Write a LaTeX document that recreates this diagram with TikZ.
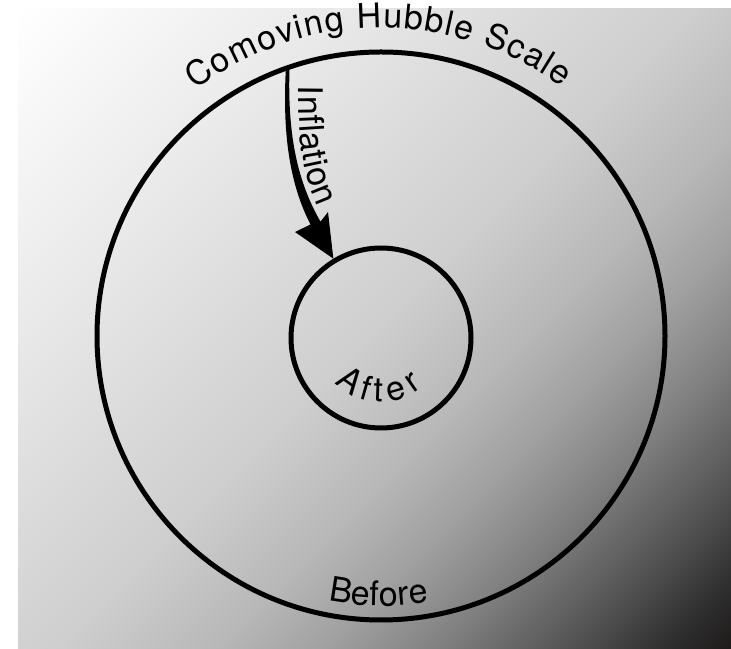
\documentclass[tikz,border=0pt]{standalone}
\usepackage{fontspec}
\setmainfont{TeX Gyre Heros}
\usetikzlibrary{decorations.text,calc}
\definecolor{bgdark}{HTML}{1F1B1B}
\pgfdeclarehorizontalshading{bgshade}{100bp}{color(0bp)=(white); color(14.64bp)=(white); color(32.32bp)=(black!9); color(50bp)=(black!19); color(58.48bp)=(black!28); color(64.14bp)=(black!37); color(69.79bp)=(black!49); color(74.04bp)=(black!60); color(78.28bp)=(black!71); color(81.82bp)=(black!81); color(85.36bp)=(bgdark); color(100bp)=(bgdark)}
\newcommand\lblfont{\fontsize{34}{40}\selectfont}
\tikzset{
  ring/.style={circle, draw=black, line width=5pt, inner sep=0pt},
  curvedlabel/.style={decorate, decoration={text along path, text align=fit to path, text={|\lblfont|#1}}},
  arrowfill/.style={fill=black},
}
\begin{document}
\begin{tikzpicture}[x=1pt,y=1pt]
\useasboundingbox (0,0) rectangle (731,648);
\fill[white] (0,0) rectangle (731,648);
\shade[shading=bgshade, shading angle=-45] (18,0) rectangle (731,639);
\node[ring, minimum size=568pt] (outer) at (381,312) {};
\node[ring, minimum size=180pt] (inner) at (381,310) {};
\coordinate (arrS) at (outer.109);
\coordinate (arrT) at (inner.121);
\fill[arrowfill] ($(arrS)+(-1.8,-2)$) .. controls (282.5,518) and (288.4,466.4) .. (310.5,423.5) -- (295,416) -- (arrT) -- (328,436) -- (320.5,426.3) .. controls (295.6,469.6) and (287.5,518) .. ($(arrS)+(1.8,-2)$) -- cycle;
\path[curvedlabel={Comoving Hubble Scale}] ($(outer.center)+(127:308)$) arc[start angle=127, end angle=54, radius=308];
\path[curvedlabel={Before}] ($(outer.center)+(258.7:270)$) arc[start angle=258.7, end angle=280.2, radius=270];
\path[curvedlabel={After}] ($(inner.center)+(224:64)$) arc[start angle=224, end angle=310, radius=64];
\path[curvedlabel={Inflation}] (299,562) .. controls (298,508) and (303,473) .. (318,441);
\end{tikzpicture}
\end{document}
